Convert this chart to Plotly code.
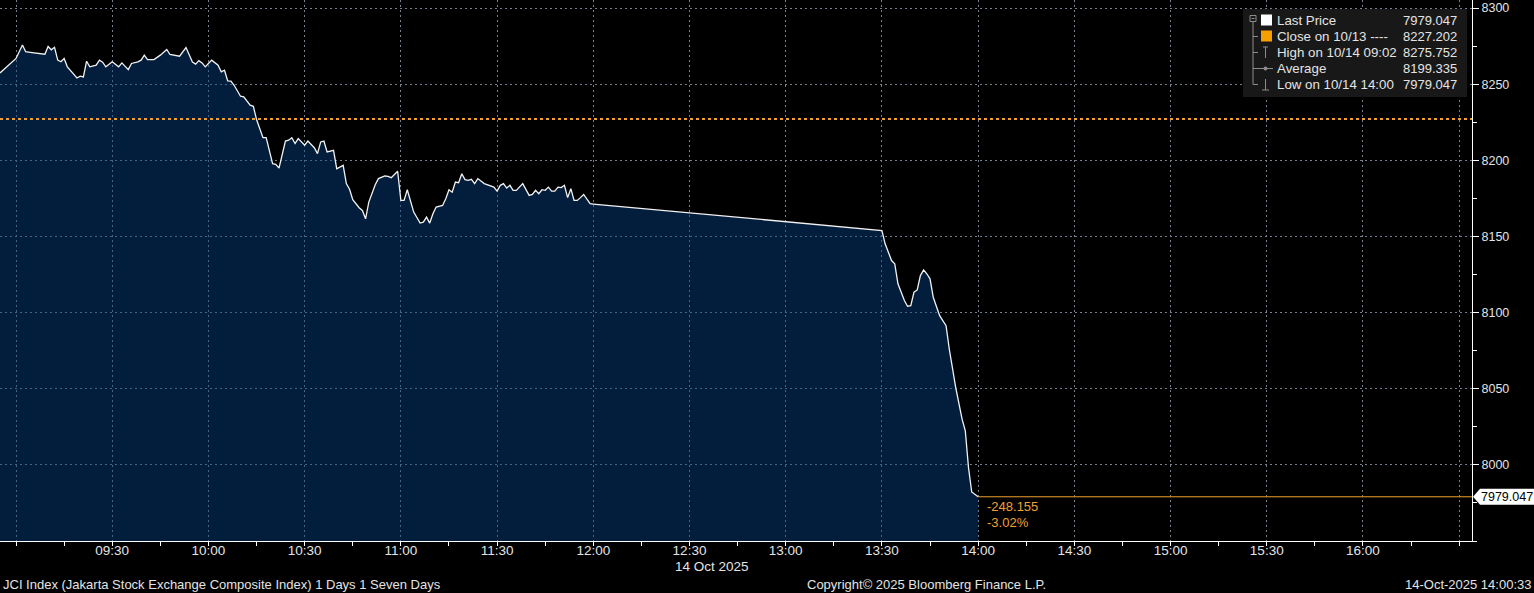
import pandas as pd
import plotly.graph_objects as go

DAY = "2025-10-14"

# ---- data ----
times = [
    "08:55", "09:00", "09:02", "09:03", "09:05", "09:09", "09:10", "09:11", "09:12", "09:13",
    "09:14", "09:15", "09:16", "09:17", "09:19", "09:20", "09:21", "09:22", "09:23", "09:25",
    "09:26", "09:27", "09:28", "09:30", "09:32", "09:33", "09:35", "09:36", "09:38", "09:39",
    "09:40", "09:41", "09:43", "09:45", "09:47", "09:48", "09:51", "09:53", "09:54", "09:55",
    "09:56", "09:57", "09:58", "09:59", "10:00", "10:01", "10:03", "10:04", "10:05", "10:06",
    "10:07", "10:08", "10:10", "10:11", "10:13", "10:14", "10:15", "10:16", "10:17", "10:18",
    "10:20", "10:21", "10:22", "10:24", "10:25", "10:26", "10:27", "10:28", "10:30", "10:31",
    "10:33", "10:34", "10:35", "10:36", "10:37", "10:39", "10:40", "10:42", "10:43", "10:44",
    "10:45", "10:47", "10:48", "10:49", "10:50", "10:52", "10:53", "10:55", "10:56", "10:57",
    "10:59", "11:00", "11:01", "11:02", "11:03", "11:04", "11:06", "11:07", "11:08", "11:09",
    "11:10", "11:11", "11:13", "11:14", "11:15", "11:16", "11:17", "11:18", "11:19", "11:20",
    "11:21", "11:22", "11:23", "11:24", "11:26", "11:28", "11:29", "11:30", "11:31", "11:32",
    "11:33", "11:34", "11:35", "11:36", "11:38", "11:40", "11:41", "11:42", "11:43", "11:44",
    "11:45", "11:46", "11:47", "11:48", "11:49", "11:50", "11:51", "11:52", "11:53", "11:54",
    "11:55", "11:56", "11:57", "11:59", "12:00",
    "13:30", "13:31", "13:33", "13:34", "13:35", "13:37", "13:38", "13:39", "13:40", "13:41",
    "13:42", "13:43", "13:44", "13:45", "13:46", "13:48", "13:50", "13:51", "13:53", "13:55",
    "13:56", "13:57", "13:58", "14:00",
]
values = [
    8257.4, 8266.9, 8275.752, 8271.3, 8270.8, 8269.7, 8274.8, 8272.6, 8274.2, 8265.8,
    8264.7, 8266.9, 8261.4, 8259.2, 8254.1, 8255.3, 8254.8, 8265.1, 8261.4, 8262.5,
    8265.8, 8264.5, 8261.4, 8264.7, 8261.4, 8264.0, 8259.6, 8263.6, 8264.7, 8265.8,
    8269.1, 8266.2, 8266.2, 8269.1, 8272.8, 8269.5, 8268.4, 8274.1, 8269.7, 8264.5,
    8263.2, 8265.5, 8264.0, 8261.4, 8263.6, 8265.8, 8262.5, 8258.1, 8259.2, 8252.2,
    8252.0, 8249.3, 8242.1, 8241.7, 8236.2, 8235.5, 8226.8, 8220.8, 8214.9, 8214.9,
    8197.8, 8197.4, 8194.9, 8212.7, 8213.2, 8214.9, 8211.0, 8214.3, 8209.9, 8212.7,
    8208.3, 8204.4, 8212.1, 8212.7, 8205.5, 8206.6, 8194.5, 8196.7, 8184.7, 8181.0,
    8174.1, 8168.9, 8167.1, 8161.6, 8172.6, 8184.0, 8188.0, 8189.7, 8189.5, 8188.6,
    8192.8, 8173.7, 8173.7, 8180.7, 8172.6, 8166.0, 8158.8, 8159.4, 8162.7, 8158.8,
    8164.9, 8169.3, 8170.4, 8174.8, 8180.7, 8179.1, 8185.7, 8185.3, 8191.2, 8187.3,
    8186.8, 8187.5, 8184.7, 8188.0, 8184.7, 8182.9, 8182.4, 8179.8, 8183.6, 8184.7,
    8181.8, 8183.6, 8180.3, 8180.3, 8184.7, 8177.0, 8177.6, 8180.3, 8178.1, 8180.7,
    8180.3, 8182.4, 8179.8, 8179.8, 8182.4, 8182.1, 8183.6, 8175.5, 8181.4, 8173.7,
    8173.7, 8175.5, 8177.6, 8171.5, 8171.3,
    8153.9, 8145.2, 8134.2, 8132.0, 8118.9, 8107.9, 8104.2, 8104.6, 8113.4, 8114.9,
    8124.3, 8128.1, 8125.5, 8122.2, 8110.1, 8098.0, 8091.4, 8076.1, 8050.9, 8030.0,
    8022.4, 7998.2, 7982.2, 7979.047,
]
prev_close = 8227.202

legend_labels = ["Last Price", "Close on 10/13 ----", "High on 10/14 09:02", "Average", "Low on 10/14 14:00"]
legend_values = [7979.047, 8227.202, 8275.752, 8199.335, 7979.047]

x_tick_times = ["09:00", "09:30", "10:00", "10:30", "11:00", "11:30", "12:00", "12:30",
                "13:00", "13:30", "14:00", "14:30", "15:00", "15:30", "16:00", "16:30"]
x_tick_labels = ["", "09:30", "10:00", "10:30", "11:00", "11:30", "12:00", "12:30",
                 "13:00", "13:30", "14:00", "14:30", "15:00", "15:30", "16:00", ""]
y_tick_values = [8000, 8050, 8100, 8150, 8200, 8250, 8300]

x_range = ["08:55", "16:34"]
y_range = [7950, 8305.3]

footer_left = "JCI Index (Jakarta Stock Exchange Composite Index) 1 Days 1 Seven Days"
footer_mid = "Copyright\u00a9 2025 Bloomberg Finance L.P."
footer_right = "14-Oct-2025 14:00:33"
date_label = "14 Oct 2025"

# ---- styling ----
W, H = 1534, 593
ML, MR, MT, MB = 0, 62, 0, 52
PW, PH = W - ML - MR, H - MT - MB
FONT = "Liberation Sans, Arial, sans-serif"
TXT = "#e4e4e4"
ORANGE = "#f0a030"
GRID = "#76818d"


def dt(t):
    return pd.Timestamp(f"{DAY} {t}")


def fx(px):
    return px / PW


def fy(py):
    return 1 - py / PH


x = [dt(t) for t in times]
last = values[-1]
chg = last - prev_close
pct = chg / prev_close * 100

fig = go.Figure()
fig.add_trace(go.Scatter(
    x=x, y=values, mode="lines",
    line=dict(color="#f2f2f2", width=1.3),
    fill="tozeroy", fillcolor="rgba(7,67,133,0.45)",
    hoverinfo="skip", showlegend=False,
))

shapes = []
# previous close dotted line
shapes.append(dict(type="line", xref="paper", x0=0, x1=1, yref="y", y0=prev_close, y1=prev_close,
                   line=dict(color=ORANGE, width=2, dash="dot"), layer="above"))
# last price line from last point to right edge
shapes.append(dict(type="line", xref="x", x0=x[-1], x1=dt(x_range[1]), yref="y", y0=last, y1=last,
                   line=dict(color=ORANGE, width=1), layer="above"))
# price tag on the right axis
shapes.append(dict(type="path", xref="paper", yref="y", xsizemode="pixel", ysizemode="pixel",
                   xanchor=1, yanchor=last,
                   path="M 1,0 L 8,8 L 62,8 L 62,-8 L 8,-8 Z",
                   fillcolor="white", line=dict(width=0), layer="above"))

# legend box
shapes.append(dict(type="rect", xref="paper", yref="paper", x0=fx(1243), x1=fx(1467), y0=fy(97), y1=fy(9),
                   fillcolor="#181818", line=dict(width=0), layer="above"))
GRAYL = "#8c8c8c"
row_y = [20.5, 36.5, 52.5, 68.5, 84.5]


def seg(x0, y0, x1, y1, color=GRAYL, w=1):
    shapes.append(dict(type="line", xref="paper", yref="paper", x0=fx(x0), x1=fx(x1), y0=fy(y0), y1=fy(y1),
                       line=dict(color=color, width=w), layer="above"))


def box(x0, y0, x1, y1, fill, line=None):
    shapes.append(dict(type="rect", xref="paper", yref="paper", x0=fx(x0), x1=fx(x1), y0=fy(y1), y1=fy(y0),
                       fillcolor=fill, line=dict(width=1 if line else 0, color=line or fill), layer="above"))


# tree
box(1250, 15.5, 1256, 21.5, "#181818", GRAYL)
seg(1251.5, 18.5, 1254.5, 18.5)
seg(1253, 21.5, 1253, row_y[-1])
for ry in row_y[1:]:
    seg(1253, ry, 1258, ry)
# icons
box(1261, 14.5, 1272, 25.5, "#ffffff")
box(1261, 30.5, 1272, 41.5, "#f5a000")
seg(1265.5, 47, 1265.5, 58)
seg(1263, 47, 1268, 47)
seg(1258, 68.5, 1273, 68.5)
shapes.append(dict(type="circle", xref="paper", yref="paper", x0=fx(1263.5), x1=fx(1267.5),
                   y0=fy(70.5), y1=fy(66.5), fillcolor=GRAYL, line=dict(width=0), layer="above"))
seg(1265.5, 79, 1265.5, 90)
seg(1262, 90, 1269, 90)

annotations = []
for ry, lab, val in zip(row_y, legend_labels, legend_values):
    annotations.append(dict(xref="paper", yref="paper", x=fx(1275), y=fy(ry), text=lab, showarrow=False,
                            xanchor="left", yanchor="middle", font=dict(family=FONT, size=13.3, color=TXT)))
    annotations.append(dict(xref="paper", yref="paper", x=fx(1459), y=fy(ry), text=f"{val:.3f}", showarrow=False,
                            xanchor="right", yanchor="middle", font=dict(family=FONT, size=13, color=TXT)))

# change annotations
annotations.append(dict(xref="x", yref="y", x=x[-1], y=last, text=f"{chg:.3f}", showarrow=False,
                        xanchor="left", yanchor="middle", xshift=7, yshift=-10,
                        font=dict(family=FONT, size=13, color=ORANGE)))
annotations.append(dict(xref="x", yref="y", x=x[-1], y=last, text=f"{pct:.2f}%", showarrow=False,
                        xanchor="left", yanchor="middle", xshift=7, yshift=-26,
                        font=dict(family=FONT, size=13, color=ORANGE)))
# price tag text
annotations.append(dict(xref="paper", yref="y", x=1, y=last, text=f"{last:.3f}", showarrow=False,
                        xanchor="left", yanchor="middle", xshift=7,
                        font=dict(family=FONT, size=12.5, color="#000000")))
# date label
annotations.append(dict(xref="paper", yref="paper", x=fx(712), y=fy(566), text=date_label, showarrow=False,
                        xanchor="center", yanchor="middle", font=dict(family=FONT, size=13.5, color=TXT)))
# footer
annotations.append(dict(xref="paper", yref="paper", x=fx(1), y=fy(584), text=footer_left, showarrow=False,
                        xanchor="left", yanchor="middle", font=dict(family=FONT, size=13, color=TXT)))
annotations.append(dict(xref="paper", yref="paper", x=fx(805), y=fy(584), text=footer_mid, showarrow=False,
                        xanchor="left", yanchor="middle", font=dict(family=FONT, size=13, color=TXT)))
annotations.append(dict(xref="paper", yref="paper", x=fx(1533), y=fy(584), text=footer_right, showarrow=False,
                        xanchor="right", yanchor="middle", font=dict(family=FONT, size=13, color=TXT)))

fig.update_layout(
    width=W, height=H,
    margin=dict(l=ML, r=MR, t=MT, b=MB, pad=0),
    paper_bgcolor="#000000", plot_bgcolor="#000000",
    showlegend=False,
    shapes=shapes, annotations=annotations,
    xaxis=dict(
        type="date", range=[dt(x_range[0]), dt(x_range[1])],
        tickmode="array", tickvals=[dt(t) for t in x_tick_times], ticktext=x_tick_labels,
        ticks="outside", ticklen=4, tickcolor="white", tickwidth=1,
        ticklabelstandoff=-7,
        showline=True, linecolor="white", linewidth=1,
        showgrid=True, gridcolor=GRID, griddash="2px,3px", gridwidth=1,
        minor=dict(dtick=15 * 60 * 1000, tick0=dt("09:00"), ticks="outside", ticklen=4,
                   tickcolor="white", showgrid=False),
        tickfont=dict(family=FONT, size=13.5, color=TXT),
        zeroline=False, fixedrange=True,
    ),
    yaxis=dict(
        side="right", range=y_range,
        tickmode="array", tickvals=y_tick_values,
        ticks="outside", ticklen=6, tickcolor="white", tickwidth=1,
        showline=True, linecolor="white", linewidth=1,
        showgrid=True, gridcolor=GRID, griddash="2px,3px", gridwidth=1,
        minor=dict(dtick=25, tick0=7950, ticks="outside", ticklen=4, tickcolor="white", showgrid=False),
        tickfont=dict(family=FONT, size=12.5, color=TXT),
        zeroline=False, fixedrange=True,
    ),
)

fig.write_html("out.html", config={"displayModeBar": False},
               post_script="document.body.style.margin='0';document.body.style.overflow='hidden';")
